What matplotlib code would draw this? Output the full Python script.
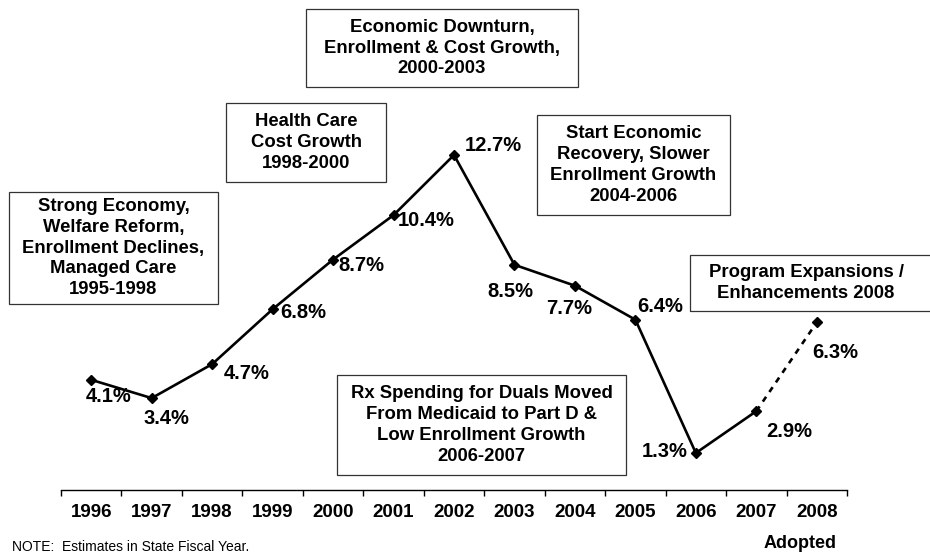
import matplotlib
matplotlib.use("Agg")
import matplotlib.pyplot as plt
from matplotlib.patches import Rectangle

plt.rcParams['font.family'] = ['Liberation Sans', 'DejaVu Sans']

years = ["1996", "1997", "1998", "1999", "2000", "2001", "2002",
         "2003", "2004", "2005", "2006", "2007", "2008"]
growth = [4.1, 3.4, 4.7, 6.8, 8.7, 10.4, 12.7, 8.5, 7.7, 6.4, 1.3, 2.9, 6.3]
labels = ["4.1%", "3.4%", "4.7%", "6.8%", "8.7%", "10.4%", "12.7%",
          "8.5%", "7.7%", "6.4%", "1.3%", "2.9%", "6.3%"]

notes = [
    "Strong Economy,\nWelfare Reform,\nEnrollment Declines,\nManaged Care\n1995-1998",
    "Health Care\nCost Growth\n1998-2000",
    "Economic Downturn,\nEnrollment & Cost Growth,\n2000-2003",
    "Start Economic\nRecovery, Slower\nEnrollment Growth\n2004-2006",
    "Program Expansions /\nEnhancements 2008",
    "Rx Spending for Duals Moved\nFrom Medicaid to Part D &\nLow Enrollment Growth\n2006-2007",
]

# label offsets from each point, in pixels (x right, y up)
label_off = [(17, -17), (15, -20), (35, -9), (31, -3), (28, -6), (33, -5),
             (39, 10), (-4, -27), (-6, -23), (25, 13), (-31, 2), (33, -20),
             (18, -30)]
# note boxes in image pixels: left, top, right, bottom
note_box = [(9, 192, 218, 304), (226, 103, 386, 182), (306, 9, 578, 87),
            (537, 115, 730, 215), (690, 255, 940, 311), (337, 375, 626, 475)]

W, H = 930, 553
fig = plt.figure(figsize=(W / 100, H / 100), dpi=100)
ax = fig.add_axes([61 / W, 1 - 490 / H, 786 / W, 490 / H])
ax.set_xlim(0, len(years))
ax.set_ylim(-0.115, 18.63)

x = [i + 0.5 for i in range(len(years))]
ax.plot(x[:-1], growth[:-1], color='black', lw=1.9, marker='D', ms=5.5,
        solid_joinstyle='miter')
ax.plot(x[-2:], growth[-2:], color='black', lw=1.9, ls=(0, (2.2, 2.2)))
ax.plot(x[-1:], growth[-1:], color='black', marker='D', ms=5.5, ls='none')

for xi, yi, lab, (dx, dy) in zip(x, growth, labels, label_off):
    ax.annotate(lab, (xi, yi), xytext=(dx, dy), textcoords='offset pixels',
                ha='center', va='center', fontsize=14.5, fontweight='bold')

for sp in ['top', 'left', 'right']:
    ax.spines[sp].set_visible(False)
ax.spines['bottom'].set_linewidth(1.0)
ax.set_yticks([])
ax.set_xticks(range(len(years) + 1))
ax.set_xticklabels([])
ax.tick_params(axis='x', which='major', direction='out', length=4, width=1)
ax.set_xticks(x, minor=True)
ax.set_xticklabels(years, minor=True, fontsize=13.5, fontweight='bold')
ax.tick_params(axis='x', which='minor', length=0, pad=10)

ax.annotate("Adopted", (x[-1], 0), xycoords=('data', 'axes fraction'),
            xytext=(-17, -53), textcoords='offset pixels', ha='center',
            va='center', fontsize=13, fontweight='bold')

for txt, (l, t, r, b) in zip(notes, note_box):
    fig.patches.append(Rectangle((l / W, 1 - b / H), (r - l) / W, (b - t) / H,
                                 transform=fig.transFigure, fill=False,
                                 edgecolor='#333333', lw=0.9))
    cx = (l + r) / 2 if r < 930 else (l + 922) / 2
    fig.text(cx / W, 1 - (t + b) / 2 / H, txt, ha='center', va='center',
             fontsize=13.3, fontweight='bold', linespacing=1.3)

fig.text(12 / W, 1 - 551 / H, "NOTE:  Estimates in State Fiscal Year.",
         fontsize=10, va='baseline', ha='left')

fig.savefig("out.png", dpi=100)
